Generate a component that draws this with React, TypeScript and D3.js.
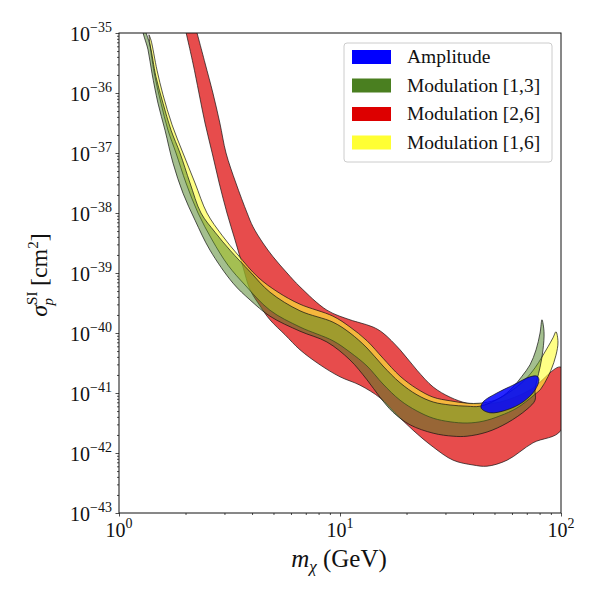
import React, { useEffect, useRef } from "react";
import * as d3 from "d3";

// outlines: [m_chi in GeV, log10 sigma in cm^2]
const redUpper: [number, number][] = [
  [2.2, -34.85], [2.45, -35.5], [2.66, -36.0], [2.86, -36.5], [3.05, -37.0], [3.38, -37.5],
  [3.8, -38.0], [4.04, -38.23], [4.48, -38.5], [4.98, -38.73], [5.76, -39.0], [6.59, -39.23],
  [8.73, -39.62], [11.1, -39.78], [12.32, -39.83], [14.1, -39.9], [15.65, -40.0], [18.7, -40.28],
  [22.3, -40.62], [26.4, -40.9], [31.5, -41.07], [37.6, -41.17], [43.0, -41.18], [53.0, -41.15],
  [72.4, -40.95], [100, -40.57],
];
const redLower: [number, number][] = [
  [1.97, -34.85], [2.16, -35.5], [2.3, -36.0], [2.45, -36.5], [2.64, -37.0], [2.84, -37.5],
  [3.08, -38.0], [3.35, -38.45], [3.64, -38.9], [3.92, -39.28], [4.35, -39.55], [4.82, -39.78],
  [5.64, -40.03], [6.59, -40.28], [8.12, -40.53], [10.0, -40.73], [12.32, -40.87], [15.17, -41.08],
  [17.74, -41.33], [21.4, -41.62], [26.4, -41.9], [32.5, -42.12], [40.0, -42.2], [46.3, -42.22],
  [57.0, -42.12], [74.7, -41.83], [100, -41.62],
];

const yellowUpper: [number, number][] = [
  [1.367, -35.03], [1.396, -35.12], [1.486, -35.62], [1.582, -36.03], [1.738, -36.53], [1.948, -37.0],
  [2.208, -37.5], [2.501, -38.0], [2.924, -38.37], [3.456, -38.7], [4.256, -39.07], [5.243, -39.32],
  [6.59, -39.52], [9.3, -39.72], [11.1, -39.9], [13.25, -40.13], [15.65, -40.42], [18.7, -40.72],
  [22.3, -40.93], [26.4, -41.07], [31.5, -41.13], [37.6, -41.17], [43.0, -41.17], [50.3, -41.12],
  [58.8, -40.98], [68.7, -40.78], [76.3, -40.58], [82.0, -40.4], [87.3, -40.23], [92.0, -40.08],
  [94.9, -39.98], [96.9, -40.15], [94.9, -40.37], [90.1, -40.62], [84.7, -40.82], [80.4, -40.95],
];
const yellowLower: [number, number][] = [
  [1.367, -35.03], [1.381, -35.2], [1.455, -35.73], [1.549, -36.17], [1.666, -36.62], [1.811, -37.0],
  [2.01, -37.5], [2.278, -38.0], [2.64, -38.45], [3.113, -38.87], [3.717, -39.2], [4.82, -39.62],
  [6.59, -39.9], [9.3, -40.13], [11.1, -40.32], [13.25, -40.55], [15.65, -40.85], [18.7, -41.12],
  [22.3, -41.3], [26.4, -41.42], [31.5, -41.48], [37.6, -41.5], [44.4, -41.47], [53.0, -41.38],
  [63.2, -41.25], [74.7, -41.05], [80.4, -40.95],
];

const greenUpper: [number, number][] = [
  [1.311, -34.95], [1.381, -35.2], [1.47, -35.73], [1.582, -36.17], [1.72, -36.62], [1.888, -37.0],
  [2.096, -37.5], [2.35, -38.0], [2.719, -38.32], [3.179, -38.62], [3.92, -38.98], [4.82, -39.32],
  [6.59, -39.63], [9.3, -39.82], [11.1, -40.0], [13.25, -40.25], [15.65, -40.55], [18.7, -40.83],
  [22.3, -41.03], [26.4, -41.15], [31.5, -41.2], [37.6, -41.22], [43.0, -41.22], [53.0, -41.08],
  [60.0, -40.92], [66.6, -40.72], [72.4, -40.53], [77.1, -40.28], [80.4, -40.0], [82.0, -39.78],
  [83.8, -39.98], [82.9, -40.28], [80.4, -40.57], [77.9, -40.78], [76.3, -40.95],
];
const greenLower: [number, number][] = [
  [1.311, -34.95], [1.284, -34.95], [1.353, -35.28], [1.41, -35.67], [1.501, -36.17], [1.615, -36.62],
  [1.756, -37.17], [1.948, -37.67], [2.208, -38.12], [2.581, -38.62], [3.281, -39.17], [3.92, -39.45],
  [4.82, -39.72], [6.59, -39.97], [8.73, -40.15], [11.1, -40.45], [13.25, -40.78], [15.17, -41.07],
  [17.37, -41.32], [20.74, -41.53], [26.4, -41.67], [32.5, -41.72], [37.6, -41.72], [46.3, -41.65],
  [57.0, -41.5], [70.2, -41.27], [76.3, -41.12],
];

const blueOutline: [number, number][] = [
  [43.5, -41.25], [47.7, -41.33], [57.0, -41.28], [67.3, -41.15], [76.3, -40.95], [79.5, -40.78],
  [77.9, -40.72], [72.4, -40.73], [60.6, -40.87], [51.3, -41.0], [44.4, -41.15],
];

const legendNames = ["Amplitude", "Modulation [1,3]", "Modulation [2,6]", "Modulation [1,6]"];
const legendColors = ["#0000ff", "#4a7f20", "#dd0000", "#ffff33"];

const xMajor = [1, 10, 100];
const yExponents = [-43, -42, -41, -40, -39, -38, -37, -36, -35];

const FONT = "'Liberation Serif', 'DejaVu Serif', serif";

export default function App() {
  const ref = useRef<SVGSVGElement>(null);

  useEffect(() => {
    const svg = d3.select(ref.current);
    svg.selectAll("*").remove();

    const left = 119, right = 561, top = 33, bottom = 513;
    const x = d3.scaleLog().domain([1, 100]).range([left, right]);
    const y = d3.scaleLog().domain([1e-43, 1e-35]).range([bottom, top]);

    svg.append("rect").attr("width", 600).attr("height", 600).attr("fill", "white");

    svg.append("defs").append("clipPath").attr("id", "plot-clip")
      .append("rect").attr("x", left).attr("y", top)
      .attr("width", right - left).attr("height", bottom - top);

    const g = svg.append("g").attr("clip-path", "url(#plot-clip)");

    const band = d3.line<[number, number]>()
      .x(d => x(d[0]))
      .y(d => y(Math.pow(10, d[1])))
      .curve(d3.curveCatmullRom.alpha(0.5));

    const bands = [
      { upper: redUpper, lower: redLower, color: "#dd0000", alpha: 0.7 },
      { upper: yellowUpper, lower: yellowLower, color: "#ffff33", alpha: 0.6 },
      { upper: greenUpper, lower: greenLower, color: "#4a7f20", alpha: 0.5 },
    ];
    bands.forEach(b => {
      g.append("path")
        .attr("d", band([...b.upper, ...b.lower.slice().reverse()]) + "Z")
        .attr("fill", b.color)
        .attr("fill-opacity", b.alpha)
        .attr("stroke", "#111")
        .attr("stroke-width", 0.7);
    });

    const ellipse = d3.line<[number, number]>()
      .x(d => x(d[0]))
      .y(d => y(Math.pow(10, d[1])))
      .curve(d3.curveCatmullRomClosed.alpha(0.5));
    g.append("path")
      .attr("d", ellipse(blueOutline))
      .attr("fill", "#0000ff")
      .attr("fill-opacity", 0.85)
      .attr("stroke", "#111")
      .attr("stroke-width", 0.7);

    // ticks
    const xMinor: number[] = [];
    [1, 10].forEach(d => { for (let k = 2; k <= 9; k++) xMinor.push(k * d); });
    const yMinor: number[] = [];
    yExponents.slice(0, -1).forEach(e => { for (let k = 2; k <= 9; k++) yMinor.push(k * Math.pow(10, e)); });
    const yMajor = yExponents.map(e => Math.pow(10, e));

    const axisStyle = (sel: any) => {
      sel.select(".domain").remove();
      sel.selectAll("line").attr("stroke", "#222").attr("stroke-width", 0.8);
    };
    svg.append("g").attr("transform", `translate(0,${bottom})`)
      .call(d3.axisBottom(x).tickValues(xMajor).tickSize(3.5).tickFormat(() => "")).call(axisStyle);
    svg.append("g").attr("transform", `translate(0,${bottom})`)
      .call(d3.axisBottom(x).tickValues(xMinor).tickSize(2).tickFormat(() => "")).call(axisStyle);
    svg.append("g").attr("transform", `translate(${left},0)`)
      .call(d3.axisLeft(y).tickValues(yMajor).tickSize(3.5).tickFormat(() => "")).call(axisStyle);
    svg.append("g").attr("transform", `translate(${left},0)`)
      .call(d3.axisLeft(y).tickValues(yMinor).tickSize(2).tickFormat(() => "")).call(axisStyle);

    svg.append("rect")
      .attr("x", left).attr("y", top).attr("width", right - left).attr("height", bottom - top)
      .attr("fill", "none").attr("stroke", "#111").attr("stroke-width", 1);

    // tick labels
    xMajor.forEach(v => {
      const t = svg.append("text").attr("x", x(v)).attr("y", 537)
        .attr("text-anchor", "middle").attr("font-family", FONT).attr("font-size", 20).attr("fill", "#111");
      t.append("tspan").text("10");
      t.append("tspan").attr("dy", -9).attr("font-size", 14).text(String(Math.round(Math.log10(v))));
    });
    yExponents.forEach(e => {
      const t = svg.append("text").attr("x", 112).attr("y", y(Math.pow(10, e)) + 8)
        .attr("text-anchor", "end").attr("font-family", FONT).attr("font-size", 20).attr("fill", "#111");
      t.append("tspan").text("10");
      t.append("tspan").attr("dy", -9).attr("font-size", 14).text("\u2212" + Math.abs(e));
    });

    // axis titles
    const xt = svg.append("text").attr("x", 339).attr("y", 567).attr("text-anchor", "middle")
      .attr("font-family", FONT).attr("font-size", 25).attr("fill", "#111");
    xt.append("tspan").attr("font-style", "italic").text("m");
    xt.append("tspan").attr("font-style", "italic").attr("font-size", 17).attr("dy", 5).text("\u03c7");
    xt.append("tspan").attr("dy", -5).text(" (GeV)");

    const yt = svg.append("text").attr("transform", "translate(47,275) rotate(-90)")
      .attr("text-anchor", "middle").attr("font-family", FONT).attr("font-size", 24).attr("fill", "#111");
    yt.append("tspan").attr("font-style", "italic").text("\u03c3");
    yt.append("tspan").attr("font-size", 15).attr("dy", -10).text("SI");
    yt.append("tspan").attr("font-size", 15).attr("font-style", "italic").attr("dx", -14).attr("dy", 16).text("p");
    yt.append("tspan").attr("dx", 6).attr("dy", -6).text(" [cm");
    yt.append("tspan").attr("font-size", 15).attr("dy", -9).text("2");
    yt.append("tspan").attr("dy", 9).text("]");

    // legend
    const lg = svg.append("g");
    lg.append("rect").attr("x", 344).attr("y", 43).attr("width", 208).attr("height", 119).attr("rx", 3)
      .attr("fill", "white").attr("fill-opacity", 0.8).attr("stroke", "#cccccc");
    legendNames.forEach((name, i) => {
      const cy = 57 + i * 28.5;
      lg.append("rect").attr("x", 352).attr("y", cy - 7).attr("width", 39).attr("height", 14)
        .attr("fill", legendColors[i]);
      lg.append("text").attr("x", 407).attr("y", cy + 6).attr("font-family", FONT).attr("font-size", 19.5)
        .attr("fill", "#111").text(name);
    });
  }, []);

  return (
    <div style={{ position: "absolute", left: 0, top: 0 }}>
      <svg ref={ref} width={600} height={600} />
    </div>
  );
}
